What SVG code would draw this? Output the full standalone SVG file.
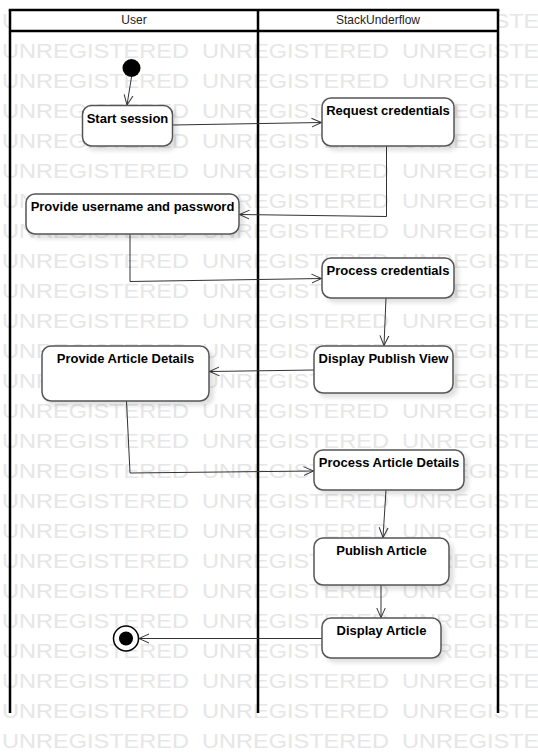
<svg xmlns="http://www.w3.org/2000/svg" width="538" height="754" viewBox="0 0 538 754">
<style>
.wm{font-family:"Liberation Sans",Arial,sans-serif;font-size:20px;fill:#e6e6e6}
.lane{fill:none;stroke:#000;stroke-width:2.5}
.hdr{font-family:"Liberation Sans",Arial,sans-serif;font-size:12px;fill:#222;text-anchor:middle}
.node rect{fill:#fff;stroke:#555;stroke-width:1.5;filter:url(#sh)}
.node text{font-family:"Liberation Sans",Arial,sans-serif;font-size:13px;font-weight:bold;fill:#000;text-anchor:middle}
.edge{fill:none;stroke:#333;stroke-width:1;marker-end:url(#arr)}
</style>
<defs>
<filter id="sh" x="-20%" y="-20%" width="140%" height="150%">
<feDropShadow dx="4" dy="4" stdDeviation="2" flood-color="#000" flood-opacity="0.12"/>
</filter>
<marker id="arr" markerUnits="userSpaceOnUse" markerWidth="12" markerHeight="12" refX="10" refY="5" orient="auto" viewBox="0 0 12 10">
<path d="M0,0.5 L10,5 L0,9.5" fill="none" stroke="#333" stroke-width="1"/>
</marker>
</defs>
<rect width="538" height="754" fill="#fff"/>
<g id="watermark">
<text class="wm" x="2" y="27.5" textLength="187" lengthAdjust="spacingAndGlyphs">UNREGISTERED</text><text class="wm" x="202" y="27.5" textLength="187" lengthAdjust="spacingAndGlyphs">UNREGISTERED</text><text class="wm" x="402" y="27.5" textLength="187" lengthAdjust="spacingAndGlyphs">UNREGISTERED</text>
<text class="wm" x="2" y="57.5" textLength="187" lengthAdjust="spacingAndGlyphs">UNREGISTERED</text><text class="wm" x="202" y="57.5" textLength="187" lengthAdjust="spacingAndGlyphs">UNREGISTERED</text><text class="wm" x="402" y="57.5" textLength="187" lengthAdjust="spacingAndGlyphs">UNREGISTERED</text>
<text class="wm" x="2" y="87.5" textLength="187" lengthAdjust="spacingAndGlyphs">UNREGISTERED</text><text class="wm" x="202" y="87.5" textLength="187" lengthAdjust="spacingAndGlyphs">UNREGISTERED</text><text class="wm" x="402" y="87.5" textLength="187" lengthAdjust="spacingAndGlyphs">UNREGISTERED</text>
<text class="wm" x="2" y="117.5" textLength="187" lengthAdjust="spacingAndGlyphs">UNREGISTERED</text><text class="wm" x="202" y="117.5" textLength="187" lengthAdjust="spacingAndGlyphs">UNREGISTERED</text><text class="wm" x="402" y="117.5" textLength="187" lengthAdjust="spacingAndGlyphs">UNREGISTERED</text>
<text class="wm" x="2" y="147.5" textLength="187" lengthAdjust="spacingAndGlyphs">UNREGISTERED</text><text class="wm" x="202" y="147.5" textLength="187" lengthAdjust="spacingAndGlyphs">UNREGISTERED</text><text class="wm" x="402" y="147.5" textLength="187" lengthAdjust="spacingAndGlyphs">UNREGISTERED</text>
<text class="wm" x="2" y="177.5" textLength="187" lengthAdjust="spacingAndGlyphs">UNREGISTERED</text><text class="wm" x="202" y="177.5" textLength="187" lengthAdjust="spacingAndGlyphs">UNREGISTERED</text><text class="wm" x="402" y="177.5" textLength="187" lengthAdjust="spacingAndGlyphs">UNREGISTERED</text>
<text class="wm" x="2" y="207.5" textLength="187" lengthAdjust="spacingAndGlyphs">UNREGISTERED</text><text class="wm" x="202" y="207.5" textLength="187" lengthAdjust="spacingAndGlyphs">UNREGISTERED</text><text class="wm" x="402" y="207.5" textLength="187" lengthAdjust="spacingAndGlyphs">UNREGISTERED</text>
<text class="wm" x="2" y="237.5" textLength="187" lengthAdjust="spacingAndGlyphs">UNREGISTERED</text><text class="wm" x="202" y="237.5" textLength="187" lengthAdjust="spacingAndGlyphs">UNREGISTERED</text><text class="wm" x="402" y="237.5" textLength="187" lengthAdjust="spacingAndGlyphs">UNREGISTERED</text>
<text class="wm" x="2" y="267.5" textLength="187" lengthAdjust="spacingAndGlyphs">UNREGISTERED</text><text class="wm" x="202" y="267.5" textLength="187" lengthAdjust="spacingAndGlyphs">UNREGISTERED</text><text class="wm" x="402" y="267.5" textLength="187" lengthAdjust="spacingAndGlyphs">UNREGISTERED</text>
<text class="wm" x="2" y="297.5" textLength="187" lengthAdjust="spacingAndGlyphs">UNREGISTERED</text><text class="wm" x="202" y="297.5" textLength="187" lengthAdjust="spacingAndGlyphs">UNREGISTERED</text><text class="wm" x="402" y="297.5" textLength="187" lengthAdjust="spacingAndGlyphs">UNREGISTERED</text>
<text class="wm" x="2" y="327.5" textLength="187" lengthAdjust="spacingAndGlyphs">UNREGISTERED</text><text class="wm" x="202" y="327.5" textLength="187" lengthAdjust="spacingAndGlyphs">UNREGISTERED</text><text class="wm" x="402" y="327.5" textLength="187" lengthAdjust="spacingAndGlyphs">UNREGISTERED</text>
<text class="wm" x="2" y="357.5" textLength="187" lengthAdjust="spacingAndGlyphs">UNREGISTERED</text><text class="wm" x="202" y="357.5" textLength="187" lengthAdjust="spacingAndGlyphs">UNREGISTERED</text><text class="wm" x="402" y="357.5" textLength="187" lengthAdjust="spacingAndGlyphs">UNREGISTERED</text>
<text class="wm" x="2" y="387.5" textLength="187" lengthAdjust="spacingAndGlyphs">UNREGISTERED</text><text class="wm" x="202" y="387.5" textLength="187" lengthAdjust="spacingAndGlyphs">UNREGISTERED</text><text class="wm" x="402" y="387.5" textLength="187" lengthAdjust="spacingAndGlyphs">UNREGISTERED</text>
<text class="wm" x="2" y="417.5" textLength="187" lengthAdjust="spacingAndGlyphs">UNREGISTERED</text><text class="wm" x="202" y="417.5" textLength="187" lengthAdjust="spacingAndGlyphs">UNREGISTERED</text><text class="wm" x="402" y="417.5" textLength="187" lengthAdjust="spacingAndGlyphs">UNREGISTERED</text>
<text class="wm" x="2" y="447.5" textLength="187" lengthAdjust="spacingAndGlyphs">UNREGISTERED</text><text class="wm" x="202" y="447.5" textLength="187" lengthAdjust="spacingAndGlyphs">UNREGISTERED</text><text class="wm" x="402" y="447.5" textLength="187" lengthAdjust="spacingAndGlyphs">UNREGISTERED</text>
<text class="wm" x="2" y="477.5" textLength="187" lengthAdjust="spacingAndGlyphs">UNREGISTERED</text><text class="wm" x="202" y="477.5" textLength="187" lengthAdjust="spacingAndGlyphs">UNREGISTERED</text><text class="wm" x="402" y="477.5" textLength="187" lengthAdjust="spacingAndGlyphs">UNREGISTERED</text>
<text class="wm" x="2" y="507.5" textLength="187" lengthAdjust="spacingAndGlyphs">UNREGISTERED</text><text class="wm" x="202" y="507.5" textLength="187" lengthAdjust="spacingAndGlyphs">UNREGISTERED</text><text class="wm" x="402" y="507.5" textLength="187" lengthAdjust="spacingAndGlyphs">UNREGISTERED</text>
<text class="wm" x="2" y="537.5" textLength="187" lengthAdjust="spacingAndGlyphs">UNREGISTERED</text><text class="wm" x="202" y="537.5" textLength="187" lengthAdjust="spacingAndGlyphs">UNREGISTERED</text><text class="wm" x="402" y="537.5" textLength="187" lengthAdjust="spacingAndGlyphs">UNREGISTERED</text>
<text class="wm" x="2" y="567.5" textLength="187" lengthAdjust="spacingAndGlyphs">UNREGISTERED</text><text class="wm" x="202" y="567.5" textLength="187" lengthAdjust="spacingAndGlyphs">UNREGISTERED</text><text class="wm" x="402" y="567.5" textLength="187" lengthAdjust="spacingAndGlyphs">UNREGISTERED</text>
<text class="wm" x="2" y="597.5" textLength="187" lengthAdjust="spacingAndGlyphs">UNREGISTERED</text><text class="wm" x="202" y="597.5" textLength="187" lengthAdjust="spacingAndGlyphs">UNREGISTERED</text><text class="wm" x="402" y="597.5" textLength="187" lengthAdjust="spacingAndGlyphs">UNREGISTERED</text>
<text class="wm" x="2" y="627.5" textLength="187" lengthAdjust="spacingAndGlyphs">UNREGISTERED</text><text class="wm" x="202" y="627.5" textLength="187" lengthAdjust="spacingAndGlyphs">UNREGISTERED</text><text class="wm" x="402" y="627.5" textLength="187" lengthAdjust="spacingAndGlyphs">UNREGISTERED</text>
<text class="wm" x="2" y="657.5" textLength="187" lengthAdjust="spacingAndGlyphs">UNREGISTERED</text><text class="wm" x="202" y="657.5" textLength="187" lengthAdjust="spacingAndGlyphs">UNREGISTERED</text><text class="wm" x="402" y="657.5" textLength="187" lengthAdjust="spacingAndGlyphs">UNREGISTERED</text>
<text class="wm" x="2" y="687.5" textLength="187" lengthAdjust="spacingAndGlyphs">UNREGISTERED</text><text class="wm" x="202" y="687.5" textLength="187" lengthAdjust="spacingAndGlyphs">UNREGISTERED</text><text class="wm" x="402" y="687.5" textLength="187" lengthAdjust="spacingAndGlyphs">UNREGISTERED</text>
<text class="wm" x="2" y="717.5" textLength="187" lengthAdjust="spacingAndGlyphs">UNREGISTERED</text><text class="wm" x="202" y="717.5" textLength="187" lengthAdjust="spacingAndGlyphs">UNREGISTERED</text><text class="wm" x="402" y="717.5" textLength="187" lengthAdjust="spacingAndGlyphs">UNREGISTERED</text>
<text class="wm" x="2" y="747.5" textLength="187" lengthAdjust="spacingAndGlyphs">UNREGISTERED</text><text class="wm" x="202" y="747.5" textLength="187" lengthAdjust="spacingAndGlyphs">UNREGISTERED</text><text class="wm" x="402" y="747.5" textLength="187" lengthAdjust="spacingAndGlyphs">UNREGISTERED</text>
</g>
<g id="lanes">
<rect x="10" y="10" width="488" height="21" fill="#fff"/>
<line class="lane" x1="8.75" y1="10" x2="499.25" y2="10"/>
<line class="lane" x1="10" y1="31" x2="498" y2="31"/>
<line class="lane" x1="10" y1="10" x2="10" y2="713"/>
<line class="lane" x1="258" y1="10" x2="258" y2="713"/>
<line class="lane" x1="498" y1="10" x2="498" y2="713"/>
<text class="hdr" x="134" y="24">User</text>
<text class="hdr" x="378" y="24">StackUnderflow</text>
</g>
<g id="connectors">
<path class="edge" d="M131.5,77 L127,105"/>
<path class="edge" d="M173,125 L321.5,122.5"/>
<path class="edge" d="M386.5,146 L386.5,216.5 L239.5,214.5"/>
<path class="edge" d="M130,234 L130,281.5 L321.5,278.5"/>
<path class="edge" d="M386,298 L384,345.5"/>
<path class="edge" d="M314,370 L209.5,371.5"/>
<path class="edge" d="M126.5,401 L130,473 L313.5,471"/>
<path class="edge" d="M386,490 L383,537.5"/>
<path class="edge" d="M381,585 L381,617.5"/>
<path class="edge" d="M322,638.5 L139,638.5"/>
</g>
<g id="initial"><circle cx="131.5" cy="68" r="9" fill="#000"/></g>
<g id="start-session" class="node"><rect x="82.5" y="105.5" width="90" height="40.5" rx="9"/><text x="127.5" y="122.5">Start session</text></g>
<g id="request-credentials" class="node"><rect x="322" y="98" width="132" height="48" rx="9"/><text x="388" y="115">Request credentials</text></g>
<g id="provide-username" class="node"><rect x="26" y="194" width="213" height="40" rx="9"/><text x="132.5" y="210.5">Provide username and password</text></g>
<g id="process-credentials" class="node"><rect x="322" y="258" width="132" height="40" rx="9"/><text x="388" y="274.5">Process credentials</text></g>
<g id="display-publish-view" class="node"><rect x="314" y="346" width="139" height="47" rx="9"/><text x="383.5" y="363">Display Publish View</text></g>
<g id="provide-article-details" class="node"><rect x="42" y="346" width="167" height="55" rx="9"/><text x="125.5" y="363">Provide Article Details</text></g>
<g id="process-article-details" class="node"><rect x="314" y="450" width="150" height="40" rx="9"/><text x="389" y="467">Process Article Details</text></g>
<g id="publish-article" class="node"><rect x="314" y="538" width="135" height="47" rx="9"/><text x="381.5" y="554.5">Publish Article</text></g>
<g id="display-article" class="node"><rect x="322" y="618" width="119" height="40" rx="9"/><text x="381.5" y="634.5">Display Article</text></g>
<g id="final"><circle cx="126" cy="638.5" r="12.5" fill="#fff" stroke="#000" stroke-width="1.5"/><circle cx="126" cy="638.5" r="7" fill="#000"/></g>
</svg>
